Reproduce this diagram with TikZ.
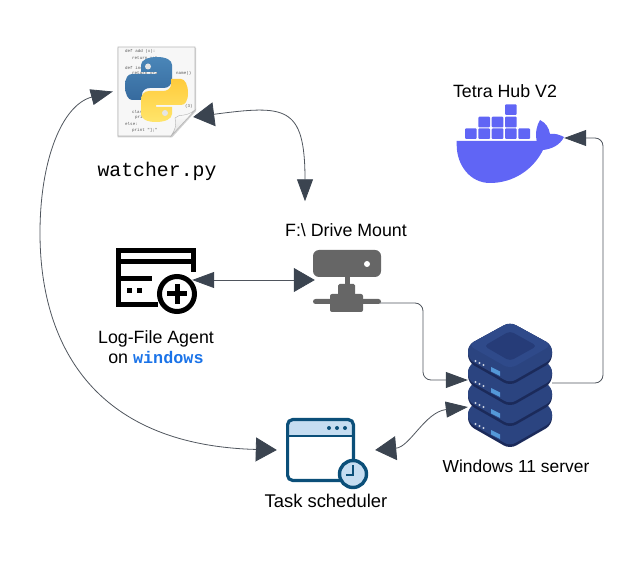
\documentclass[tikz,border=0pt]{standalone}
\usepackage{fontspec}
\setmainfont{Liberation Sans}
\setmonofont{Liberation Mono}
\usetikzlibrary{arrows.meta}
\definecolor{linkgray}{HTML}{4F555D}
\definecolor{tipdark}{HTML}{3B4450}
\definecolor{whale}{HTML}{6065F5}
\definecolor{mountgray}{HTML}{666666}
\definecolor{srvtop}{HTML}{2F4A8A}
\definecolor{srvin}{HTML}{263C78}
\definecolor{srvside}{HTML}{2B4480}
\definecolor{srvdark}{HTML}{1B2A5A}
\definecolor{taskblue}{HTML}{0B4F79}
\definecolor{tasklight}{HTML}{C6DDF1}
\definecolor{pyblueA}{HTML}{4A86B8}
\definecolor{pyblueB}{HTML}{366A9E}
\definecolor{pyyelA}{HTML}{FFCB3C}
\definecolor{pyyelB}{HTML}{FFE56B}
\tikzset{
  icon/.style={inner sep=0pt,minimum width=#1},
  label/.style={font=\fontsize{17.8}{20}\selectfont,inner sep=0pt,align=center},
  link/.style={draw=linkgray,line width=.8pt},
  thin head/.tip={Triangle[length=22pt,width=16pt,color=tipdark]},
  wide head/.tip={Triangle[length=21pt,width=24pt,color=tipdark]},
  codeline/.style={font=\ttfamily\fontsize{4.2}{5}\selectfont,text=black!65,inner sep=0pt,anchor=west},
  snake/.pic={
    \path [pic actions] (141,65) .. controls (141,60) and (148,57) .. (157,57) .. controls (166,57) and (172,60) .. (172,65) -- (172,79) .. controls (172,84) and (169,88) .. (164,88) -- (150,88) .. controls (145,88) and (142,91) .. (142,95) -- (142,100) -- (132,100) .. controls (128,100) and (125,94) .. (125,86) .. controls (125,78) and (128,74) .. (132,74) -- (157,74) -- (157,72) -- (141,72) -- cycle;
  }
}
\begin{document}
\begin{tikzpicture}[x=1pt,y=-1pt]
  \useasboundingbox (0,0) rectangle (643,561);

  % python file
  \fill [black!18] (117.5,48) -- (196,48) -- (196,111) -- (172,137.5) -- (117.5,137.5) -- cycle;
  \fill [black!3,draw=black!28,line width=.6pt] (118,47) -- (195,47) -- (195,110) -- (171,136) -- (118,136) -- cycle;
  \foreach \n/\x/\y/\txt in {a/125/51/def add (x):, b/132/58/return x+1, c/125/68/def inc, d/132/73/return x+1, e/176/73/name(), f/185/106/(3), g/132/112/class, h/135/117/print, i/125/124/else:, j/132/130/print "];"}
    \node (code\n) [codeline] at (\x,\y) {\txt};
  \path [top color=white,bottom color=black!12,draw=black!30,line width=.4pt] (195,110) .. controls (185,118) and (180,113) .. (175,118) .. controls (177,125) and (175,130) .. (171,136) -- cycle;
  \pic [top color=pyblueA,bottom color=pyblueB] at (0,0) {snake};
  \pic [rotate around={180:(156.5,89.5)},top color=pyyelA,bottom color=pyyelB] at (0,0) {snake};
  \fill [white!90!black] (148,66.5) circle [radius=3];
  \fill [white!90!black] (165,113) circle [radius=3];
  \node (watcher) [icon=80pt,minimum height=89pt] at (153,91.5) {};
  \node (watcherlabel) [inner sep=0pt,font=\ttfamily\fontsize{19.8}{22}\selectfont] at (157,171) {watcher.py};

  % docker whale
  \fill [whale,rounded corners=1pt] (465,128.3) rectangle +(11.7,10.7) (478.3,128.3) rectangle +(11.7,10.7) (491.7,128.3) rectangle +(11.7,10.7) (505,128.3) rectangle +(11.7,10.7) (518.3,128.3) rectangle +(11.7,10.7);
  \fill [whale,rounded corners=1pt] (478.3,116.7) rectangle +(11.7,10.7) (491.7,116.7) rectangle +(11.7,10.7) (505,116.7) rectangle +(11.7,10.7);
  \fill [whale,rounded corners=1pt] (505,104.3) rectangle +(11.7,10.7);
  \fill [whale] (456.7,141) -- (536.7,141) .. controls (535,132) and (537,125) .. (540,120) .. controls (546,123) and (549,128) .. (550,134) .. controls (555,133) and (560,135) .. (564,137) .. controls (560,145) and (552,149) .. (543,150) .. controls (533,170) and (513,183) .. (490,183) .. controls (470,183) and (456.7,165) .. (456.7,145) -- cycle;
  \node (hub) [icon=108pt,minimum height=90pt] at (510,138) {};
  \node (hublabel) [label] at (505,91) {Tetra Hub V2};

  % log file agent
  \draw [line width=5pt] (193.5,272) -- (193.5,250.5) -- (118.5,250.5) -- (118.5,304.5) -- (158,304.5);
  \draw [line width=5pt] (118.5,262) -- (193.5,262);
  \draw [line width=5pt] (118.5,278.5) -- (152,278.5);
  \fill (127,288) rectangle (131.5,293);
  \fill (137,288) rectangle (141.5,293);
  \draw [line width=5pt,fill=white] (177,294) circle [radius=17.5];
  \draw [line width=5pt] (167,294) -- (187,294) (177,284) -- (177,304);
  \node (agent) [icon=76pt,minimum height=60pt] at (154,280) {};
  \node (agentlabel) [label] at (156,347) {Log-File Agent\\on {\ttfamily\bfseries\fontsize{16.8}{20}\selectfont\color[HTML]{1A73E8}windows}};

  % drive mount
  \fill [mountgray,rounded corners=6pt] (313,250) rectangle (381,277);
  \fill [white] (367,264) circle [radius=3];
  \fill [mountgray] (345,276) rectangle (350,285);
  \fill [mountgray,rounded corners=1.5pt] (338,284) rectangle (355,296);
  \fill [mountgray,rounded corners=2pt] (330,294) rectangle (363,312);
  \fill [mountgray,rounded corners=2.5pt] (313,299) rectangle (381,304);
  \node (drive) [icon=65pt,minimum height=62pt] at (347.5,280) {};
  \node (drivelabel) [label] at (346,230) {F:\textbackslash{} Drive Mount};

  % server stack
  \foreach \i in {63,42,21,0} {
    \begin{scope}[yshift=-\i pt]
      \fill [srvdark,rounded corners=7pt] (468,345) -- (468,362) -- (510,386) -- (552,362) -- (552,345) -- (510,322) -- cycle;
      \fill [srvside,rounded corners=6pt] (468,345) -- (468,359) -- (510,383) -- (552,359) -- (552,345) -- (510,322) -- cycle;
      \fill [white!75!srvside] (475.5,361) circle [radius=1.2] (479.5,363) circle [radius=1.2] (483.5,365) circle [radius=1.2];
      \fill [cyan!60!blue!70!white] (491,367) -- (500,371.5) -- (500,376) -- (491,371.5) -- cycle;
    \end{scope}
  }
  \fill [srvtop,rounded corners=7pt] (468,345) -- (510,369) -- (552,345) -- (510,322) -- cycle;
  \fill [srvin,rounded corners=4pt] (484,346) -- (510,361) -- (537,346) -- (510,331) -- cycle;
  \node (server) [icon=84pt,minimum height=125pt] at (510,384.5) {};
  \node (serverlabel) [label,font=\fontsize{17.4}{20}\selectfont] at (516,466) {Windows 11 server};

  % task scheduler
  \fill [tasklight] (288,420) rectangle (353,436);
  \draw [taskblue,line width=3.2pt,rounded corners=5pt] (287.6,419.6) rectangle (353.4,480.4);
  \draw [taskblue,line width=1.6pt] (287.6,436) -- (353.4,436);
  \fill [taskblue] (329,428) circle [radius=2] (337,428) circle [radius=2] (345,428) circle [radius=2];
  \draw [taskblue,line width=3.4pt,fill=tasklight] (353,474) circle [radius=13.5];
  \draw [taskblue,line width=1.5pt] (353,465) -- (353,475) -- (346,475);
  \node (task) [icon=98pt,minimum height=64pt] at (326,450) {};
  \node (tasklabel) [label,font=\fontsize{18.4}{20}\selectfont] at (326,501) {Task scheduler};

  % connectors
  \draw [link,thin head-wide head] (watcher.west) .. controls (62,105) and (40,160) .. (40,233) .. controls (40,340) and (90,445) .. (task.west);
  \draw [link,wide head-thin head] ([yshift=-25.5pt]watcher.east) .. controls (285,105) and (305,105) .. ([xshift=-41pt,yshift=22pt]drivelabel.north);
  \draw [link,thin head-wide head] (agent.east) -- (drive.west);
  \draw [link,-thin head,rounded corners=8pt] ([yshift=-23pt]drive.east) -- (423,303) -- (423,380) -- ([yshift=4.5pt]server.west);
  \draw [link,-thin head,rounded corners=8pt] ([yshift=1.5pt]server.east) -- (603,383) -- (603,138) -- (hub.east);
  \draw [link,wide head-thin head] (task.east) .. controls (410,447) and (425,412) .. ([yshift=-22.5pt]server.west);
\end{tikzpicture}
\end{document}
